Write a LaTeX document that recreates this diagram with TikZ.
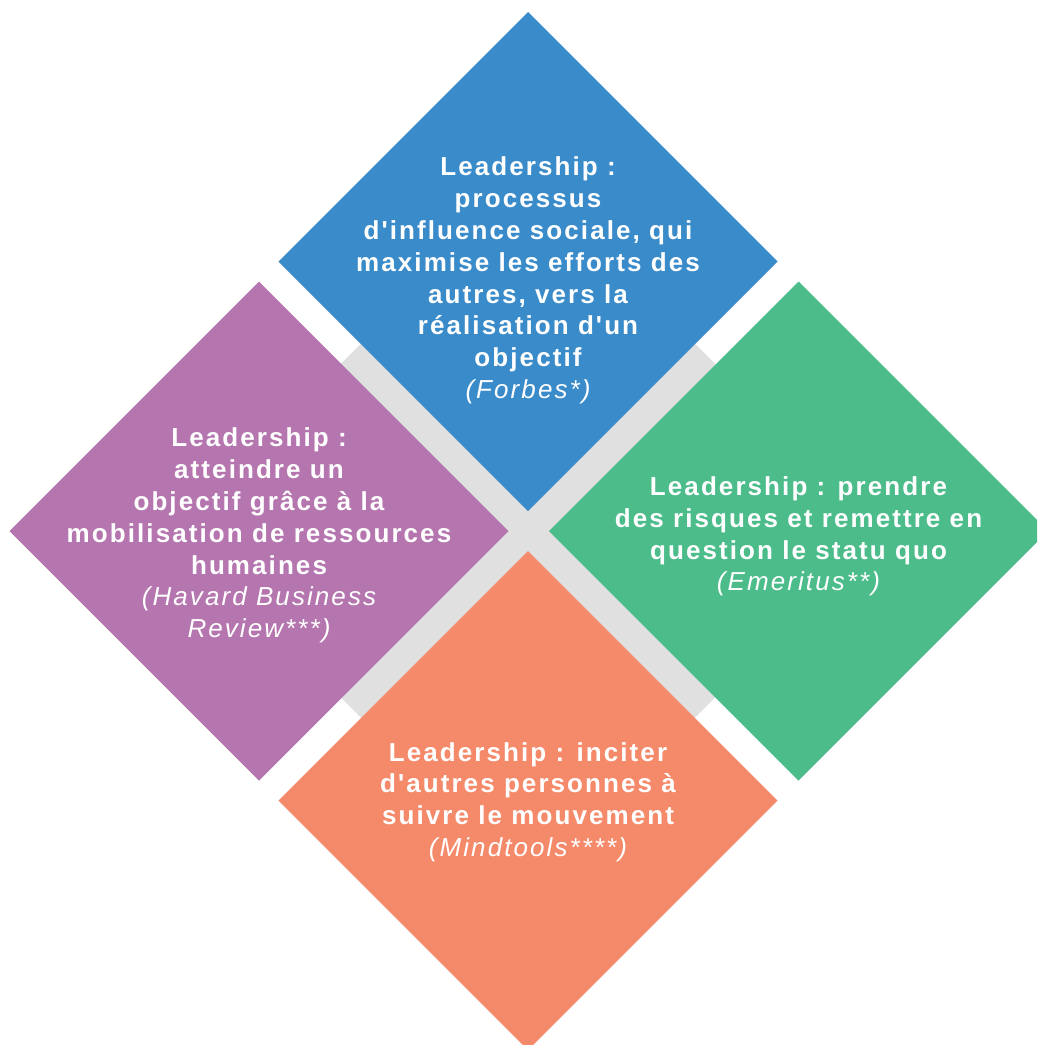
\documentclass[tikz,border=0pt]{standalone}
\usepackage{fontspec}
\setmainfont{Liberation Sans}[LetterSpace=8, Ligatures=TeXOff]
\usetikzlibrary{shapes.geometric}
\definecolor{cblue}{HTML}{3A8BCA}
\definecolor{cpurple}{HTML}{B575AF}
\definecolor{cgreen}{HTML}{4BBC8A}
\definecolor{corange}{HTML}{F58A6B}
\definecolor{cgray}{HTML}{DFE0DF}
\tikzset{
  tile/.style={diamond, aspect=1, inner sep=0pt, outer sep=0pt, draw=none, minimum size=499pt},
  label/.style={text=white, align=center, inner sep=0pt, font=\fontsize{26}{31.8}\selectfont\bfseries}
}
\newcommand\citetxt[1]{{\mdseries\itshape #1}}
\begin{document}
\begin{tikzpicture}[x=1pt,y=-1pt]
\useasboundingbox (0,0) rectangle (1037,1045);
\clip (0,0) rectangle (1037,1045);
\node[diamond, aspect=1, inner sep=0pt, outer sep=0pt, minimum size=708pt, fill=cgray] (back) at (528,530.5) {};
\node[tile, fill=cblue] (top) at (528,261.5) {};
\node[tile, fill=cpurple] (left) at (259,531) {};
\node[tile, fill=cgreen] (right) at (798.5,531) {};
\node[tile, fill=corange] (bottom) at (528,800.5) {};
\node[label] (ttop) at (528,280.5) {Leadership :\\processus\\d'influence sociale, qui\\maximise les efforts des\\autres, vers la\\réalisation d'un\\objectif\\\citetxt{(Forbes*)}};
\node[label] (tleft) at (259,535.5) {Leadership :\\atteindre un\\objectif grâce à la\\mobilisation de ressources\\humaines\\\citetxt{(Havard Business}\\\citetxt{Review***)}};
\node[label] (tright) at (798.5,536.5) {Leadership : prendre\\des risques et remettre en\\question le statu quo\\\citetxt{(Emeritus**)}};
\node[label] (tbottom) at (528,802) {Leadership : inciter\\d'autres personnes à\\suivre le mouvement\\\citetxt{(Mindtools****)}};
\end{tikzpicture}
\end{document}
